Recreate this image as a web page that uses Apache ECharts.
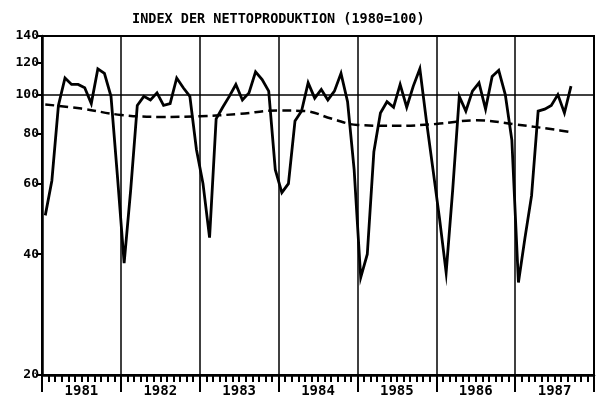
<!DOCTYPE html>
<html>
<head>
<meta charset="utf-8">
<script src="https://cdn.jsdelivr.net/npm/echarts@6/dist/echarts.min.js"></script>
<style>
html,body{margin:0;padding:0;background:#fff;}
#chart{width:596px;height:400px;}
</style>
</head>
<body>
<div id="chart"></div>
<script>
// Monthly index values (1980 = 100)
const years = ['1981', '1982', '1983', '1984', '1985', '1986', '1987'];
const idx1981 = [50, 61, 94, 110, 106, 106, 104, 95, 116, 113, 99, 62];
const idx1982 = [38, 58, 94, 99, 97, 101, 94, 95, 110, 104, 99, 73];
const idx1983 = [60, 44, 87, 93, 99, 106, 97, 101, 114, 109, 102, 65];
const idx1984 = [57, 60, 86, 91, 107, 98, 103, 97, 102, 113, 96, 65];
const idx1985 = [35, 40, 72, 90, 96, 93, 106, 93, 105, 116, 86, 65];
const idx1986 = [49, 36, 58, 99, 91, 102, 107, 92, 111, 115, 100, 77];
const idx1987 = [34, 44, 56, 91, 92, 94, 100, 90, 105];

// Trend (dashed line): months since Jan 1981 and values
const trendMonth = [0.5, 6, 12, 18, 24, 30, 36, 40, 44, 48, 54, 60, 66, 72, 78, 80.5];
const trendValue = [94.5, 92.3, 89, 88, 88.3, 89.5, 91.3, 91, 87.2, 84, 83.6, 84.5, 86.3, 84.3, 81.8, 80.6];

const yTicks = [20, 40, 60, 80, 100, 120, 140];

const allMonths = [].concat(idx1981, idx1982, idx1983, idx1984, idx1985, idx1986, idx1987);
const solidData = allMonths.map((v, i) => [i + 0.5, v]);
const trendData = trendMonth.map((m, i) => [m, trendValue[i]]);
const yearCenters = years.map((y, i) => i * 12 + 6);

const FONT = '"DejaVu Sans Mono", monospace';

const chart = echarts.init(document.getElementById('chart'), null, {renderer: 'canvas'});
chart.setOption({
  animation: false,
  backgroundColor: '#fff',
  title: {
    text: 'INDEX DER NETTOPRODUKTION (1980=100)',
    left: 127,
    top: 7,
    textStyle: {fontFamily: FONT, fontSize: 13.5, fontWeight: 'bold', color: '#000'}
  },
  grid: {
    left: 42, right: 2, top: 36, bottom: 25,
    show: true, borderColor: '#000', borderWidth: 2, backgroundColor: 'transparent'
  },
  xAxis: {
    type: 'value',
    min: 0, max: 84, interval: 12,
    axisLine: {show: true, lineStyle: {color: '#000', width: 2.5}},
    axisTick: {show: true, length: 17, lineStyle: {color: '#000', width: 2}},
    minorTick: {show: true, splitNumber: 12, length: 7, lineStyle: {color: '#000', width: 2}},
    splitLine: {show: true, lineStyle: {color: '#000', width: 1.5}},
    minorSplitLine: {show: false},
    axisLabel: {
      customValues: yearCenters,
      formatter: v => years[Math.round((v - 6) / 12)] || '',
      margin: 9,
      fontFamily: FONT, fontSize: 14, fontWeight: 'bold', color: '#000'
    }
  },
  yAxis: {
    type: 'log', logBase: 10,
    min: 20, max: 140,
    axisLine: {show: true, lineStyle: {color: '#000', width: 2.5}},
    axisTick: {show: true, customValues: yTicks, length: 6, lineStyle: {color: '#000', width: 2}},
    splitLine: {show: false},
    axisLabel: {
      customValues: yTicks,
      margin: 3,
      fontFamily: FONT, fontSize: 13, fontWeight: 'bold', color: '#000'
    }
  },
  series: [
    {
      type: 'line',
      data: solidData,
      symbol: 'none',
      lineStyle: {color: '#000', width: 2.8, join: 'miter'},
      markLine: {
        silent: true,
        symbol: 'none',
        label: {show: false},
        lineStyle: {color: '#000', width: 1.5, type: 'solid'},
        data: [{yAxis: 100}]
      },
      z: 3
    },
    {
      type: 'line',
      data: trendData,
      symbol: 'none',
      smooth: 0.4,
      lineStyle: {color: '#000', width: 2.5, type: [9, 5]},
      z: 2
    }
  ]
});
</script>
</body>
</html>
